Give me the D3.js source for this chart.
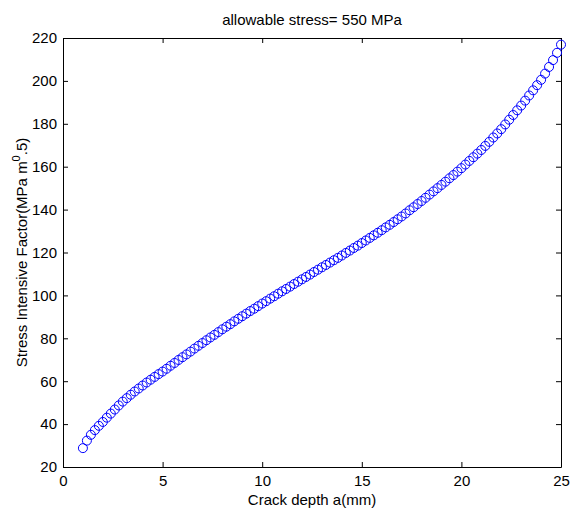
<!DOCTYPE html>
<html lang="en">
<head>
  <meta charset="UTF-8" />
  <title>allowable stress</title>
  <script src="https://d3js.org/d3.v7.min.js"></script>
  <style>
    body { margin: 0; background: #fff; overflow: hidden; }
    svg { display: block; font-family: "Liberation Sans", Arial, sans-serif; }
  </style>
</head>
<body>
<svg id="chart" width="573" height="514"></svg>
<script>
// crack depth a (mm)
const crackDepth = [
  1.0, 1.2, 1.4, 1.6, 1.8, 2.0, 2.2, 2.4, 2.6, 2.8, 3.0, 3.2, 3.4, 3.6, 3.8,
  4.0, 4.2, 4.4, 4.6, 4.8, 5.0, 5.2, 5.4, 5.6, 5.8, 6.0, 6.2, 6.4, 6.6, 6.8,
  7.0, 7.2, 7.4, 7.6, 7.8, 8.0, 8.2, 8.4, 8.6, 8.8, 9.0, 9.2, 9.4, 9.6, 9.8,
  10.0, 10.2, 10.4, 10.6, 10.8, 11.0, 11.2, 11.4, 11.6, 11.8, 12.0, 12.2, 12.4, 12.6, 12.8,
  13.0, 13.2, 13.4, 13.6, 13.8, 14.0, 14.2, 14.4, 14.6, 14.8, 15.0, 15.2, 15.4, 15.6, 15.8,
  16.0, 16.2, 16.4, 16.6, 16.8, 17.0, 17.2, 17.4, 17.6, 17.8, 18.0, 18.2, 18.4, 18.6, 18.8,
  19.0, 19.2, 19.4, 19.6, 19.8, 20.0, 20.2, 20.4, 20.6, 20.8, 21.0, 21.2, 21.4, 21.6, 21.8,
  22.0, 22.2, 22.4, 22.6, 22.8, 23.0, 23.2, 23.4, 23.6, 23.8, 24.0, 24.2, 24.4, 24.6, 24.8,
  25.0
];
// stress intensity factor (MPa m^0.5)
const stressFactor = [
  28.8, 32.3, 35.0, 37.2, 39.2, 41.0, 43.0, 44.9, 46.8, 48.7, 50.5, 52.1, 53.7, 55.2, 56.6,
  58.0, 59.4, 60.7, 62.0, 63.3, 64.5, 65.8, 67.2, 68.5, 69.9, 71.2, 72.5, 73.8, 75.2, 76.5,
  77.8, 79.1, 80.4, 81.6, 82.9, 84.2, 85.4, 86.6, 87.9, 89.1, 90.3, 91.5, 92.7, 93.8, 95.0,
  96.2, 97.3, 98.5, 99.6, 100.8, 101.9, 103.0, 104.1, 105.3, 106.4, 107.5, 108.6, 109.7, 110.9, 112.0,
  113.1, 114.2, 115.3, 116.4, 117.5, 118.6, 119.8, 120.9, 122.1, 123.2, 124.4, 125.6, 126.8, 128.0, 129.2,
  130.4, 131.7, 132.9, 134.2, 135.5, 136.8, 138.2, 139.7, 141.1, 142.6, 144.0, 145.5, 147.0, 148.5, 150.0,
  151.5, 153.0, 154.6, 156.1, 157.7, 159.3, 161.0, 162.7, 164.4, 166.1, 167.8, 169.7, 171.6, 173.6, 175.5,
  177.5, 179.7, 181.9, 184.1, 186.3, 188.5, 190.8, 193.2, 195.6, 198.0, 200.5, 203.4, 206.5, 209.7, 213.1,
  216.9
];
const xTicks = [0, 5, 10, 15, 20, 25];
const yTicks = [20, 40, 60, 80, 100, 120, 140, 160, 180, 200, 220];

const svg = d3.select("#chart");
const plot = { left: 63, right: 561, top: 38, bottom: 467 };

const x = d3.scaleLinear().domain([0, 25]).range([plot.left, plot.right]);
const y = d3.scaleLinear().domain([20, 220]).range([plot.bottom, plot.top]);

const fontSize = "15px";
const tick = 5;

// inward ticks on all four sides, like a matlab box
svg.append("g").attr("transform", `translate(0,${plot.bottom})`)
  .call(d3.axisBottom(x).tickValues(xTicks).tickSizeInner(-tick).tickSizeOuter(0).tickPadding(8));
svg.append("g").attr("transform", `translate(0,${plot.top})`)
  .call(d3.axisTop(x).tickValues(xTicks).tickSizeInner(-tick).tickSizeOuter(0).tickFormat(""));
svg.append("g").attr("transform", `translate(${plot.left},0)`)
  .call(d3.axisLeft(y).tickValues(yTicks).tickSizeInner(-tick).tickSizeOuter(0).tickPadding(6));
svg.append("g").attr("transform", `translate(${plot.right},0)`)
  .call(d3.axisRight(y).tickValues(yTicks).tickSizeInner(-tick).tickSizeOuter(0).tickFormat(""));

svg.selectAll(".domain").attr("stroke", "#000").attr("stroke-width", 1);
svg.selectAll(".tick line").attr("stroke", "#000");
svg.selectAll(".tick text")
  .attr("fill", "#000")
  .style("font-size", fontSize)
  .style("font-family", "'Liberation Sans', Arial, sans-serif");

// markers
svg.append("g").selectAll("circle")
  .data(crackDepth.map((a, i) => [a, stressFactor[i]]))
  .join("circle")
  .attr("cx", d => x(d[0]))
  .attr("cy", d => y(d[1]))
  .attr("r", 4.5)
  .attr("fill", "none")
  .attr("stroke", "#0000ff")
  .attr("stroke-width", 1);

svg.append("text")
  .attr("x", (plot.left + plot.right) / 2).attr("y", 25)
  .attr("text-anchor", "middle").style("font-size", fontSize)
  .text("allowable stress= 550 MPa");

svg.append("text")
  .attr("x", (plot.left + plot.right) / 2).attr("y", 505)
  .attr("text-anchor", "middle").style("font-size", fontSize)
  .text("Crack depth a(mm)");

const yl = svg.append("text")
  .attr("transform", `translate(27,${(plot.top + plot.bottom) / 2}) rotate(-90)`)
  .attr("text-anchor", "middle").style("font-size", fontSize);
yl.append("tspan").text("Stress Intensive Factor(MPa m");
yl.append("tspan").attr("dy", -7).style("font-size", "11px").text("0");
yl.append("tspan").attr("dy", 7).text(".5)");
</script>
</body>
</html>
